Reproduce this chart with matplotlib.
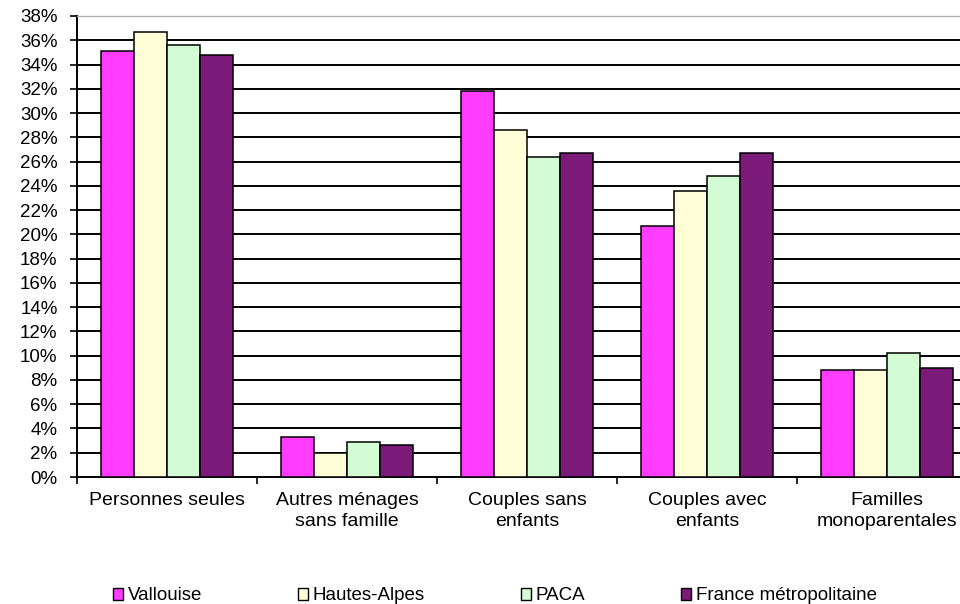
import matplotlib
matplotlib.use("Agg")
import matplotlib.pyplot as plt
import numpy as np
from matplotlib.ticker import FixedLocator, PercentFormatter

plt.rcParams['font.family'] = ['Liberation Sans', 'DejaVu Sans']

categories = ["Personnes seules", "Autres ménages\nsans famille", "Couples sans\nenfants",
              "Couples avec\nenfants", "Familles\nmonoparentales"]
series_names = ["Vallouise", "Hautes-Alpes", "PACA", "France métropolitaine"]
vallouise = [35.1, 3.3, 31.8, 20.7, 8.8]
hautes_alpes = [36.7, 2.0, 28.6, 23.6, 8.8]
paca = [35.6, 2.85, 26.4, 24.8, 10.2]
france = [34.8, 2.65, 26.7, 26.7, 8.95]
yticks = list(range(0, 39, 2))

series = [vallouise, hautes_alpes, paca, france]
colors = ["#FF3CFF", "#FFFED6", "#D4FCD4", "#7B1A79"]

fig = plt.figure(figsize=(9.6, 6.04), dpi=100)
ax = fig.add_axes([77/960, 127/604, 900/960, 461/604])

x = np.arange(len(categories))
w = 0.1833
for k, (vals, col, name) in enumerate(zip(series, colors, series_names)):
    ax.bar(x + (k - 1.5) * w, vals, width=w, color=col, edgecolor='black',
           linewidth=1.1, label=name, zorder=3)

ax.set_xlim(-0.5, len(categories) - 0.5)
ax.set_ylim(0, 38)
ax.set_yticks(yticks)
ax.yaxis.set_major_formatter(PercentFormatter(decimals=0))
for t in yticks[1:-1]:
    ax.axhline(t, color='black', linewidth=1.4, zorder=1)

ax.set_xticks(x)
ax.set_xticklabels(categories, fontsize=14, linespacing=1.3)
ax.xaxis.set_minor_locator(FixedLocator(np.arange(-0.5, len(categories), 1.0)))
ax.tick_params(axis='x', which='major', length=0, pad=11)
ax.tick_params(axis='x', which='minor', length=5, width=1.2, color='black')
ax.tick_params(axis='y', which='major', length=5, width=1.2, pad=9, labelsize=13.5)

for s in ['left', 'bottom']:
    ax.spines[s].set_color('black')
    ax.spines[s].set_linewidth(1.4)
ax.spines['top'].set_color('#b0b0b0')
ax.spines['top'].set_linewidth(1.0)
ax.spines['right'].set_color('#b0b0b0')
ax.spines['right'].set_linewidth(1.0)

leg = fig.legend(loc='center left', bbox_to_anchor=(113/960, 8/604), ncol=4,
                 frameon=False, fontsize=13.5, borderpad=0, borderaxespad=0,
                 handlelength=0.55, handleheight=0.55, handletextpad=0.25,
                 columnspacing=5.1)
for h in leg.legend_handles:
    h.set_linewidth(1.0)

fig.savefig("out.png", dpi=100)
